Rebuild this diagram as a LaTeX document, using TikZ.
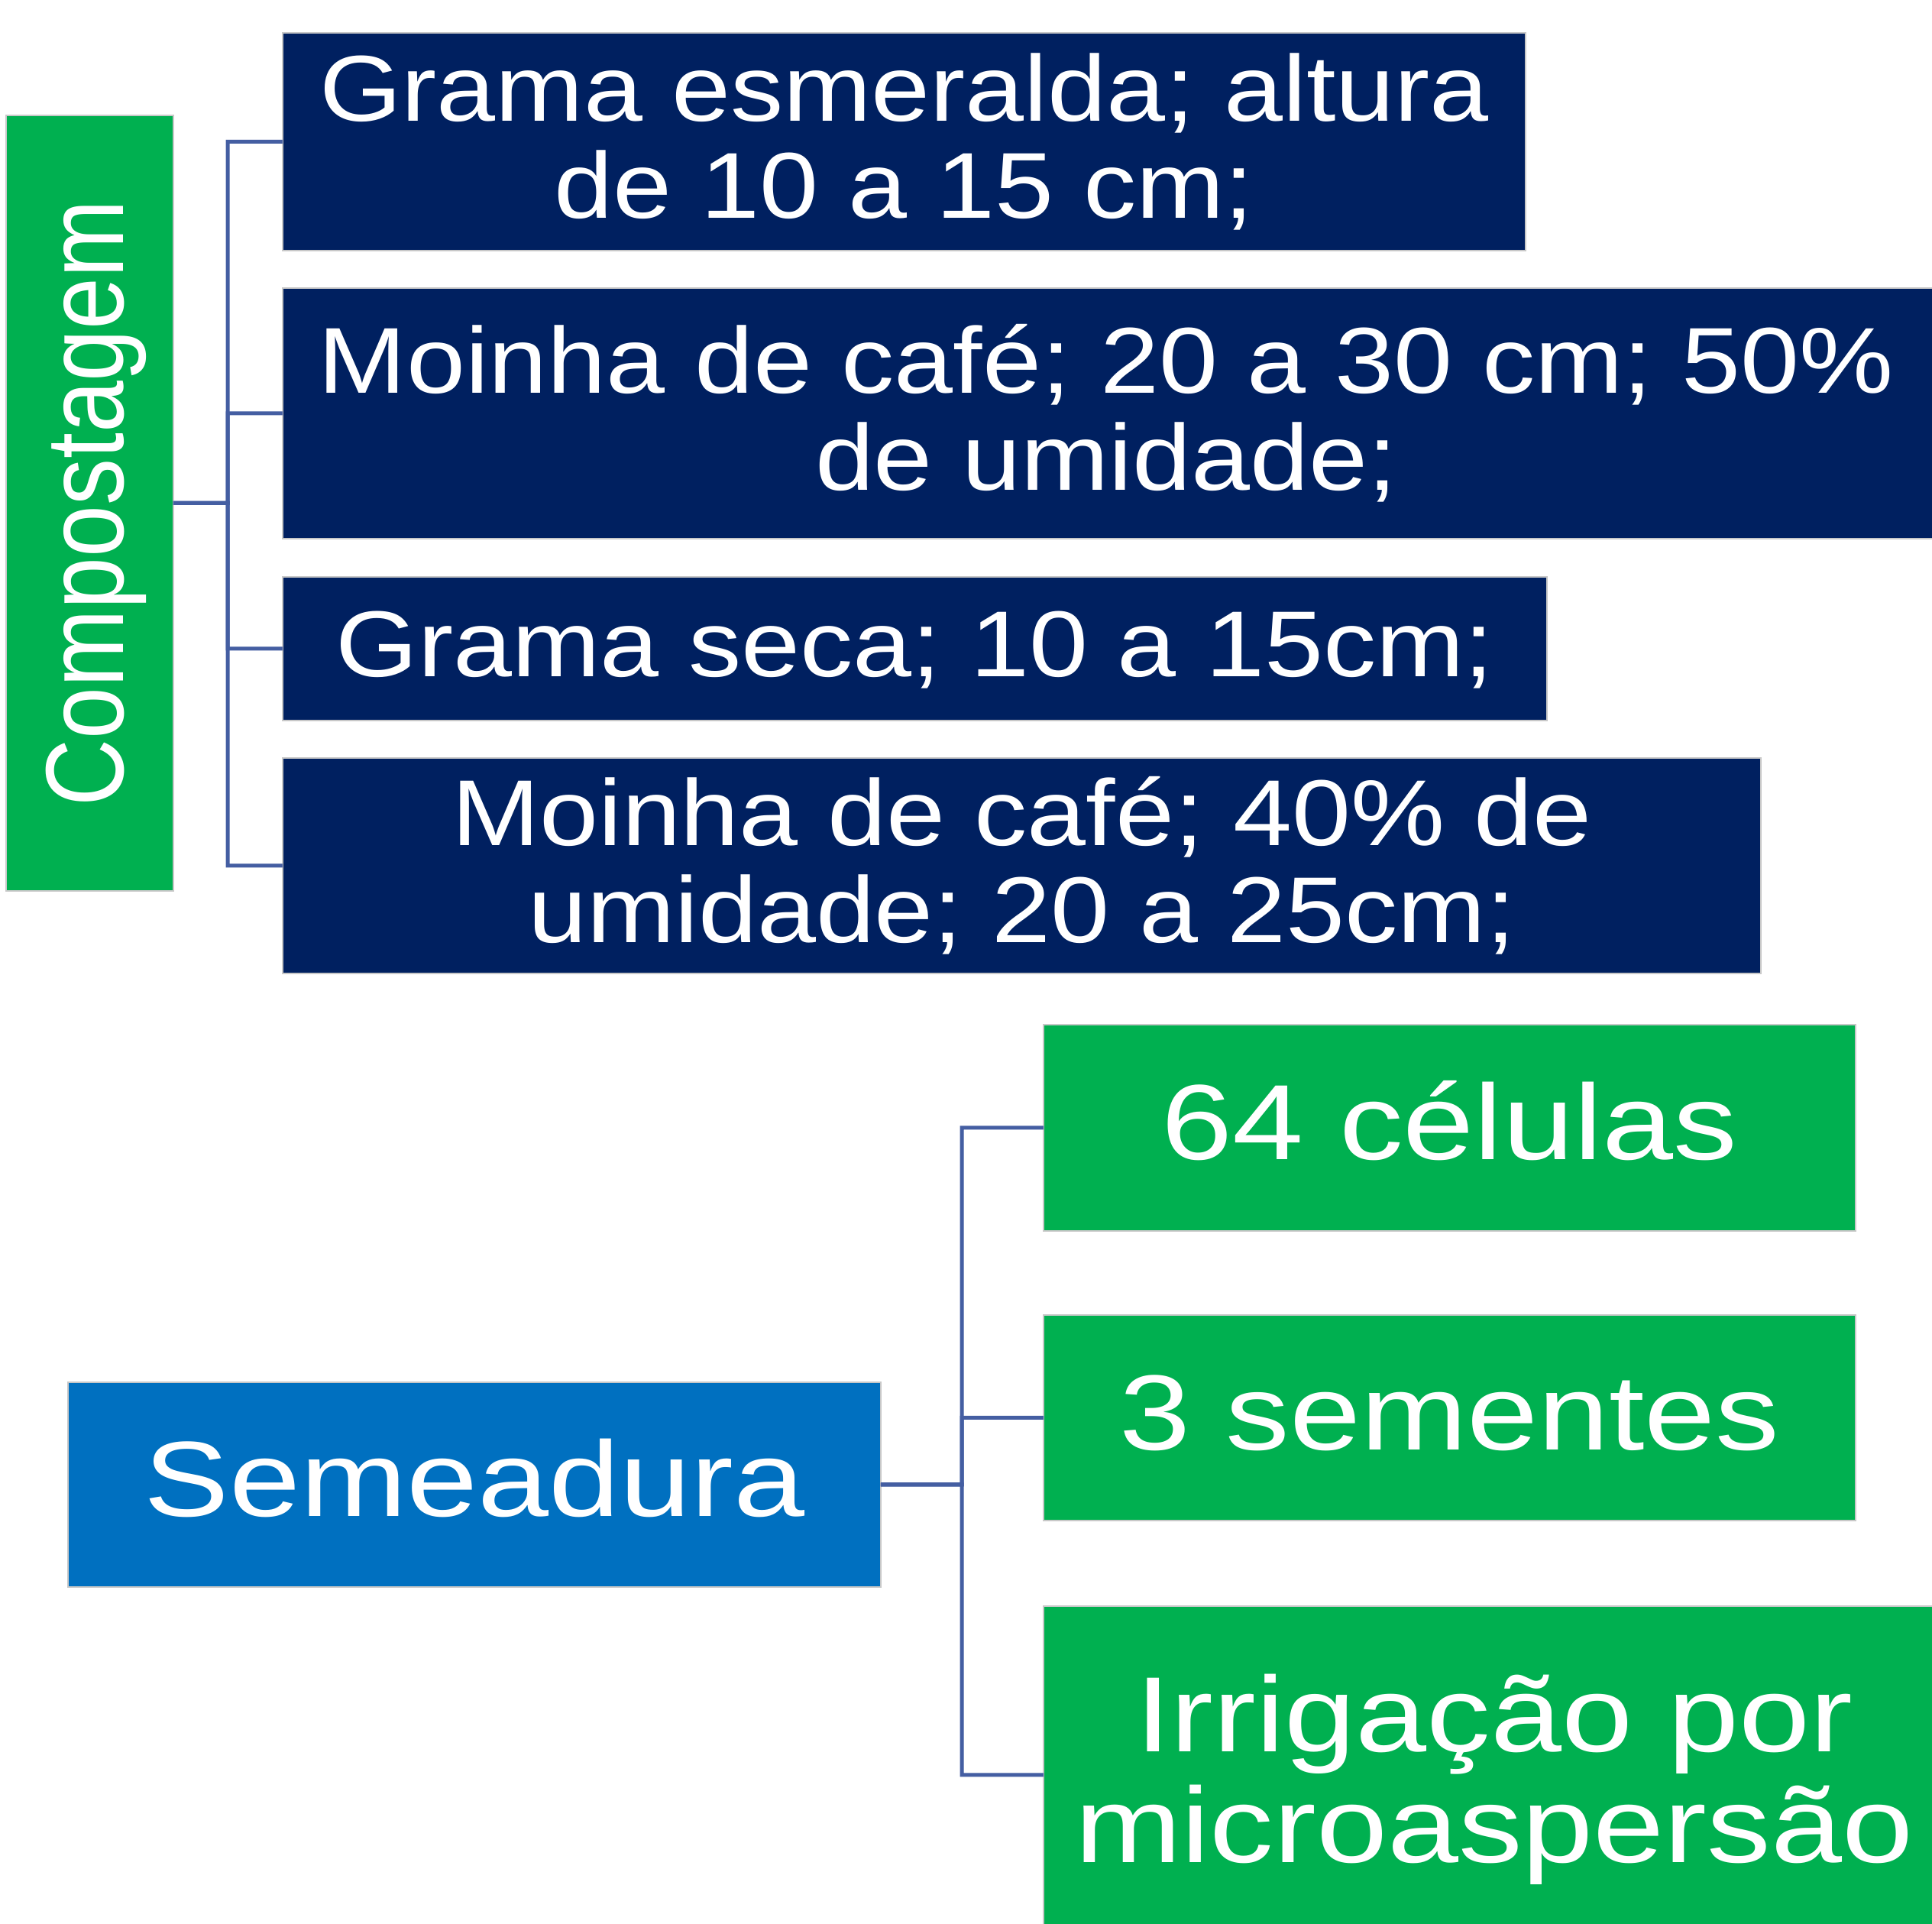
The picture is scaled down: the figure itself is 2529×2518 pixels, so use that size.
\documentclass[tikz,border=0pt]{standalone}
\usepackage{fontspec}
\setmainfont{Liberation Sans}
\usepackage{graphicx}
\definecolor{navy}{RGB}{0,32,96}
\definecolor{pgreen}{RGB}{0,176,80}
\definecolor{pblue}{RGB}{0,112,192}
\definecolor{conncol}{RGB}{68,94,162}
\definecolor{edgecol}{RGB}{200,200,200}
\newcommand\tline[1]{\smash{#1}\rule[-0.2em]{0pt}{1em}}
\newcommand\nx[1]{\scalebox{1.13}[1]{\tline{#1}}}
\newcommand\gx[1]{\scalebox{1.195}[1]{\tline{#1}}}
\begin{document}
\begin{tikzpicture}[x=0.1pt,y=-0.1pt,
  box/.style={draw=edgecol, line width=0.25pt, inner sep=0pt, outer sep=0pt,
    text=white, align=center, anchor=north west},
  navybox/.style={box, fill=navy, font=\fontsize{12.25pt}{12.7pt}\selectfont},
  greenbox/.style={box, fill=pgreen, font=\fontsize{14pt}{14.5pt}\selectfont},
  bluebox/.style={box, fill=pblue, font=\fontsize{14pt}{14.5pt}\selectfont},
  cn/.style={draw=conncol, line width=0.5pt}]
\fill[white] (0,0) rectangle (2529,2518);
\useasboundingbox (0,0) rectangle (2529,2518);

% Compostagem branch
\node[box, fill=pgreen, font=\fontsize{12.2pt}{12.6pt}\selectfont,
  minimum width=21.9pt, minimum height=101.5pt] (comp) at (8,151)
  {\scalebox{1.19}[1]{\rotatebox{90}{\tline{Compostagem}}}};
\node[navybox, minimum width=162.7pt, minimum height=28.5pt] (b1) at (370,43)
  {\nx{Grama esmeralda; altura}\\\nx{de 10 a 15 cm;}};
\node[navybox, minimum width=217pt, minimum height=32.8pt] (b2) at (370,377)
  {\nx{Moinha de café; 20 a 30 cm; 50\%}\hspace*{1.4pt}\\\nx{de umidade;}\hspace*{1.4pt}};
\node[navybox, minimum width=165.5pt, minimum height=18.8pt] (b3) at (370,755)
  {\nx{Grama seca; 10 a 15cm;}};
\node[navybox, minimum width=193.5pt, minimum height=28.2pt] (b4) at (370,992)
  {\nx{Moinha de café; 40\% de}\\\nx{umidade; 20 a 25cm;}};

\coordinate (busA) at (298,658.5);
\foreach \t in {b1,b2,b3,b4}
  \draw[cn] (comp.east) -- (busA) |- (\t.west);

% Semeadura branch
\node[bluebox, minimum width=106.4pt, minimum height=26.8pt] (sem) at (89,1809)
  {\gx{Semeadura}};
\node[greenbox, minimum width=106.3pt, minimum height=27pt] (c64) at (1366,1341)
  {\gx{64 células}};
\node[greenbox, minimum width=106.3pt, minimum height=26.9pt] (s3) at (1366,1721)
  {\gx{3 sementes}};
\node[greenbox, minimum width=118pt, minimum height=44.2pt] (irr) at (1366,2102)
  {\gx{Irrigação por}\\\gx{microaspersão}};

\coordinate (busB) at (1259,1943);
\foreach \t in {c64,s3,irr}
  \draw[cn] (sem.east) -- (busB) |- (\t.west);
\end{tikzpicture}
\end{document}
